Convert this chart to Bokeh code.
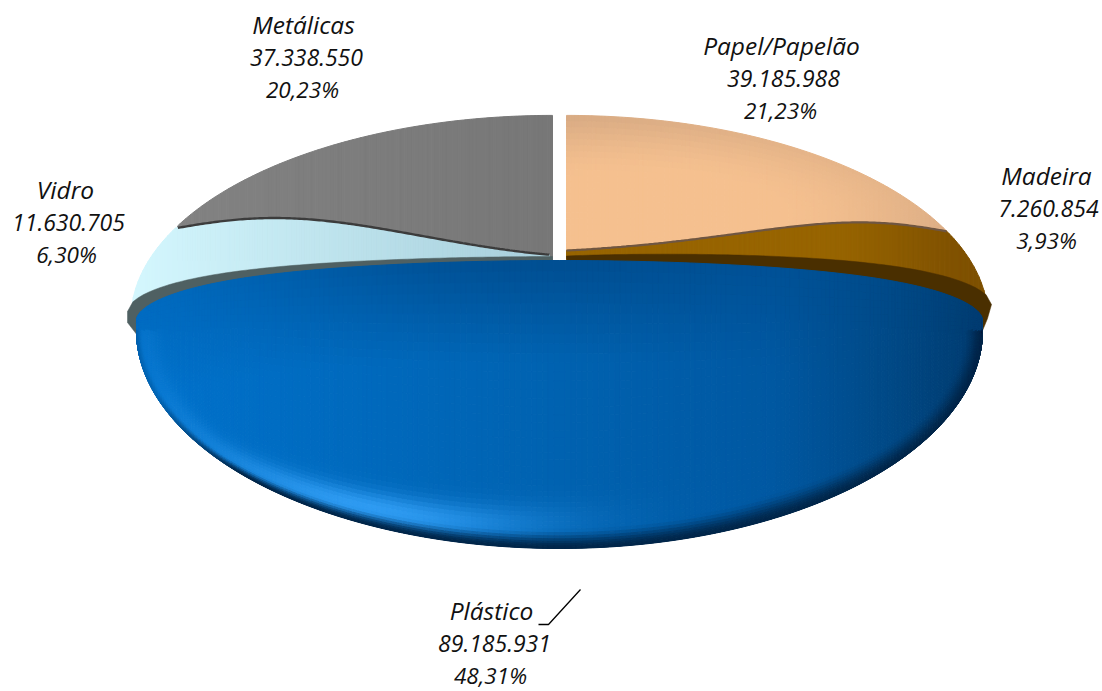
import numpy as np
from bokeh.plotting import figure
from bokeh.embed import file_html
from bokeh.resources import INLINE
from bokeh.core.properties import value

categories = ["Papel/Papelão", "Madeira", "Plástico", "Vidro", "Metálicas"]
values = [39185988, 7260854, 89185931, 11630705, 37338550]
value_labels = ["39.185.988", "7.260.854", "89.185.931", "11.630.705", "37.338.550"]
percent_labels = ["21,23%", "3,93%", "48,31%", "6,30%", "20,23%"]
name_x = [781, 1046, 491, 65, 303]
number_x = [783, 1048, 494, 68, 306]
percent_x = [780, 1046, 490, 66, 302]
label_y = [45, 175, 610, 189, 24]

W, H = 1102, 691
p = figure(width=W, height=H, x_range=(0, W), y_range=(H, 0),
           output_backend="svg", toolbar_location=None, min_border=0)
p.axis.visible = False
p.grid.visible = False
p.outline_line_color = None

# perspective disc
K, A, B = 0.278, 188.0, 405.0
APEX_Y = 262.0
CX_R, CX_L, CX_P = 566.0, 552.0, 559.0
RX_P = 423.0
BEVEL, SHOULDER, GAP = 3.6, 10.4, 5.3

cum = np.cumsum(values) / np.sum(values) * 360.0
th_paper, th_mad, th_plast, th_vid = cum[0], cum[1], cum[2], cum[3]


def disc(theta, cx):
    t = np.radians(theta)
    w = 1 + K * np.cos(t)
    return cx + B * np.sin(t) / w, APEX_Y - A * np.cos(t) / w


def hexes(rgb):
    rgb = np.clip(np.rint(rgb), 0, 255).astype(int)
    return ["#%02x%02x%02x" % tuple(c) for c in rgb]


def col(h):
    return np.array([int(h[i:i + 2], 16) for i in (1, 3, 5)], float)


def mix(a, b, s):
    s = np.clip(s, 0, 1)[..., None]
    return a * (1 - s) + b * s


def sstep(a, b, x):
    s = np.clip((x - a) / (b - a), 0, 1)
    return s * s * (3 - 2 * s)


def fill_between(xs, top, bot, rows, shade, power=1.0):
    px, py, cx_all, cy_all = [], [], [], []
    f = 1 - (1 - np.linspace(0, 1, rows + 1)) ** power
    for i in range(len(xs) - 1):
        for j in range(rows):
            f0, f1 = f[j], f[j + 1]
            a0 = top[i] + (bot[i] - top[i]) * f0
            a1 = top[i + 1] + (bot[i + 1] - top[i + 1]) * f0
            b0 = top[i] + (bot[i] - top[i]) * f1
            b1 = top[i + 1] + (bot[i + 1] - top[i + 1]) * f1
            px.append([xs[i], xs[i + 1], xs[i + 1], xs[i]])
            py.append([a0, a1, b1, b0])
            cx_all.append((xs[i] + xs[i + 1]) / 2)
            cy_all.append((a0 + a1 + b0 + b1) / 4)
    c = hexes(shade(np.array(cx_all), np.array(cy_all)))
    p.patches(px, py, fill_color=c, line_color=c, line_width=1.0)


def plastic_top(x, rx=RX_P):
    t = np.clip(np.abs(x - CX_P) / rx, 0, 1)
    return 260 + 26 * t ** 2 + 34 * (1 - np.sqrt(1 - t ** 6))


def shadow_top(x):
    t = np.clip(np.abs(x - CX_P) / 432.0, 0, 1)
    thick = np.where(x > CX_P, 4 + 12 * t ** 0.8, 4 + 5 * t ** 2)
    thick = np.where(np.abs(x - CX_P) < 7, 0, thick)
    return plastic_top(x, 432.0) - thick


def arc_fn(t0, t1, cx):
    xa, ya = disc(np.linspace(t0, t1, 200), cx)
    order = np.argsort(xa)
    return lambda x: np.interp(x, xa[order], ya[order])


# ---- Paper
p_end = th_paper + BEVEL
x_pe, y_pe = disc(p_end, CX_R)
paper_arc = arc_fn(0, p_end, CX_R)
xs = np.linspace(CX_R, x_pe, 90)
paper_shade = lambda x, y: mix(col("#f5c08f"), col("#cfa480"), sstep(0.4, 1.3, np.hypot((x - 640) / 330, (y - 215) / 100)))
fill_between(xs, paper_arc(xs), np.full_like(xs, 260.0), 24, paper_shade)

# ---- Metal
m_start = th_vid - GAP
x_ms, y_ms = disc(m_start, CX_L)
metal_arc = arc_fn(m_start, 360, CX_L)
xs = np.linspace(x_ms, CX_L, 140)
fill_between(xs, metal_arc(xs), np.minimum(metal_arc(xs) + 150, 260.0), 1,
             lambda x, y: mix(col("#828282"), col("#777777"), (x - x_ms) / (CX_L - x_ms)))

# ---- Madeira
m_end = th_mad + SHOULDER
x_me, y_me = disc(m_end, CX_R)


def mad_edge(x):
    t = (x - CX_R) / (x_pe - CX_R)
    return 250 + (y_pe - 250) * t - 14 * np.sin(np.pi * t ** 2)


mad_arc = arc_fn(p_end, m_end, CX_R)
xs = np.linspace(CX_R, x_me, 170)
mad_top = np.where(xs <= x_pe, mad_edge(np.minimum(xs, x_pe)), mad_arc(xs))
fill_between(xs, mad_top, shadow_top(xs) + 3, 1,
             lambda x, y: mix(col("#976400"), col("#7e5000"), sstep(820, 985, x)))
xe = xs[xs <= x_pe]
p.line(xe, mad_edge(xe), line_color="#6f5642", line_width=2.2)

# ---- Vidro
v_end = th_plast - SHOULDER
x_ve, y_ve = disc(v_end, CX_L)
x_vs, y_vs = disc(m_start, CX_L)


def vid_edge(x):
    t = (CX_L - 5 - x) / (CX_L - 5 - x_vs)
    return 254 + (y_vs + 2 - 254) * t - 18 * np.sin(np.pi * np.clip(t, 0, 1) ** 1.6)


vid_arc = arc_fn(v_end, m_start, CX_L)
xs = np.linspace(x_ve, CX_L - 3, 170)
vid_top = np.where(xs >= x_vs, vid_edge(np.maximum(xs, x_vs)), vid_arc(xs))
fill_between(xs, vid_top, shadow_top(xs) + 3, 1,
             lambda x, y: mix(col("#d4f7fe"), col("#acd3df"), (x - x_ve) / 370))
xe = xs[xs >= x_vs]
p.line(xe, vid_edge(xe), line_color="#3c3c3c", line_width=2.4)

# ---- Under-shadow of the front slice
xs_l = np.linspace(127, CX_P - 7, 80)
xs_r = np.linspace(CX_P + 7, 991, 80)
p.patch(np.r_[xs_l, CX_P - 7, 137, 127, 127], np.r_[shadow_top(xs_l), 300, 335, 322, shadow_top(xs_l)[0]],
        fill_color="#4f6062", line_color="#4f6062", line_width=0.5)
p.patch(np.r_[xs_r, 987, 980, CX_P + 7], np.r_[shadow_top(xs_r), 318, 335, 300],
        fill_color="#4a2f00", line_color="#4a2f00", line_width=0.5)

# ---- Plastic
mid_span = np.linspace(th_mad, th_plast, 241)
a = np.radians((mid_span - th_mad) / (th_plast - th_mad) * 180 - 90)
xs = CX_P + RX_P * np.sin(a)
top = plastic_top(xs)
bot = 330 + 218 * np.cos(a)

U_STOPS = [-1, 0, 0.5, 0.8, 1]
C_STOPS = np.array([col(h) for h in ("#0072cc", "#0062b0", "#0058a2", "#004884", "#003a6d")])


def plastic_shade(x, y):
    u = (x - CX_P) / RX_P
    yy = np.maximum((y - 330) / 218, 0)
    d = 1 - np.hypot(u, yy)
    c = np.stack([np.interp(u, U_STOPS, C_STOPS[:, k]) for k in range(3)], axis=-1)
    tv = np.clip((y - plastic_top(x)) / 100, 0, 1)
    c = mix(c, col("#004c8e"), (1 - tv) * 0.9 * np.exp(-(u / 0.75) ** 2))
    dp = np.interp(u, [-1, -0.8, -0.4, 0, 0.5, 1], [0.015, 0.02, 0.06, 0.09, 0.1, 0.04])
    lower = y > 330
    hl = np.exp(-((d - dp * 1.3) / (dp * 0.9 + 0.015)) ** 2) * np.exp(-((u + 0.45) / 0.38) ** 2) * lower
    c = mix(c, col("#2e9bf2"), hl)
    fade = np.clip((u + 1) / 0.25, 0.2, 1)
    rim = (1 - sstep(0.0, dp, d)) * lower * fade
    c = mix(c, col("#00264a"), rim)
    return c


fill_between(xs, top, bot, 44, plastic_shade, power=1.7)

# ---- Leader line for the front slice
p.line([538, 548, 580], [624, 624, 589], line_color="#000000", line_width=1.3)

# ---- Labels
LINE_NUMBER, LINE_PERCENT = 32.5, 65
y0 = np.array(label_y, float)
common = dict(text_font=value("Open Sans"), text_font_style="italic", text_align="center",
              text_baseline="middle", text_color="#111111")
p.text(name_x, y0, text=categories, text_font_size="24.5px", **common)
p.text(number_x, y0 + LINE_NUMBER, text=value_labels, text_font_size="23px", **common)
p.text(percent_x, y0 + LINE_PERCENT, text=percent_labels, text_font_size="22.5px", **common)

open("out.html", "w").write(file_html(p, INLINE))
